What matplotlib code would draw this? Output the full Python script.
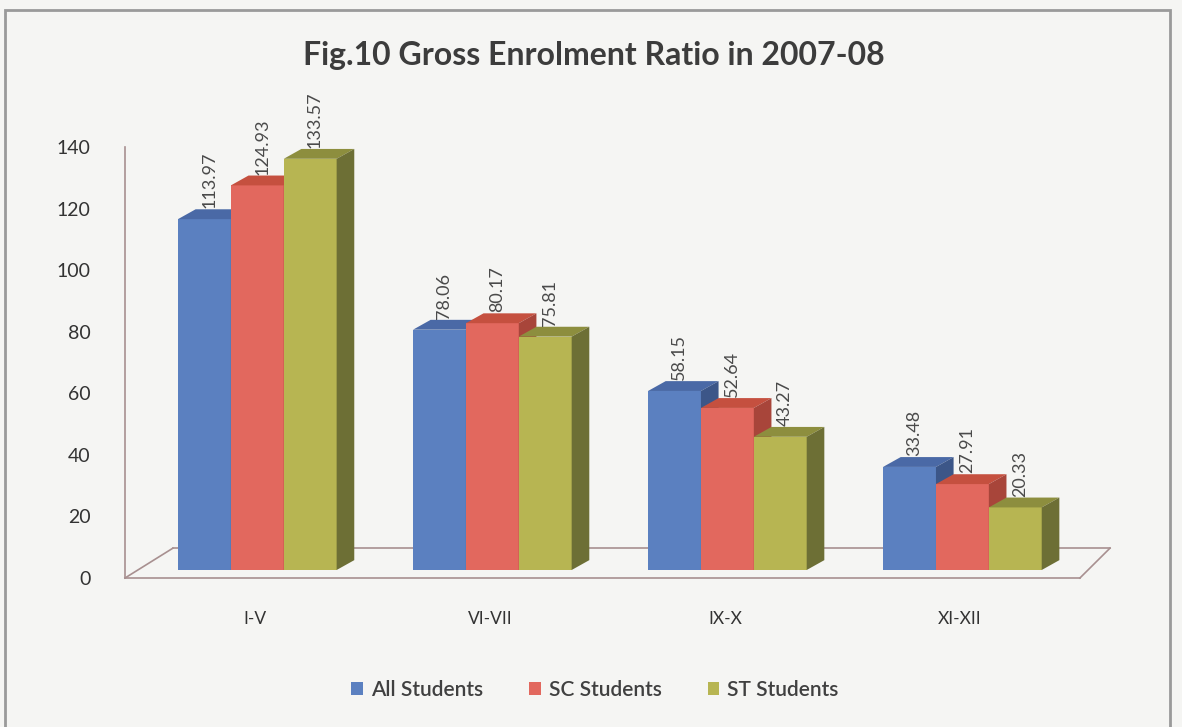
import matplotlib
matplotlib.use("Agg")
import matplotlib.pyplot as plt
from matplotlib.patches import Polygon, Rectangle

plt.rcParams['font.family'] = ['Lato', 'DejaVu Sans']

categories = ['I-V', 'VI-VII', 'IX-X', 'XI-XII']
series = ['All Students', 'SC Students', 'ST Students']
all_students = [113.97, 78.06, 58.15, 33.48]
sc_students = [124.93, 80.17, 52.64, 27.91]
st_students = [133.57, 75.81, 43.27, 20.33]
values = [all_students, sc_students, st_students]

front = ['#5b80c0', '#e2685e', '#b7b552']
top = ['#4a69a6', '#c5503f', '#8d8e3e']
side = ['#3c5688', '#a8453a', '#6d6f35']

fig = plt.figure(figsize=(11.82, 7.27), dpi=100, facecolor='#f5f5f3')
ax = fig.add_axes([125 / 1182, 149 / 727, 985 / 1182, 431 / 727])
ax.set_facecolor('none')

# outer frame of the chart
fig.patches.append(Rectangle((5 / 1182, -0.01), 1165 / 1182, 1 - 10 / 727 + 0.01,
                             transform=fig.transFigure, fill=False,
                             edgecolor='#9a9a9a', lw=2))

ax.set_xlim(-0.553, 3.638)
ax.set_ylim(0, 140)

# floor of the 3d chart, drawn under the bars
floor_col = '#a89090'
kw = dict(color=floor_col, lw=1.2, clip_on=False, zorder=0.5)
ax.plot([-0.553, 3.51], [0, 0], **kw)
ax.plot([-0.553, -0.349], [0, 9.7], **kw)
ax.plot([-0.349, 3.638], [9.7, 9.7], **kw)
ax.plot([3.51, 3.638], [0, 9.7], **kw)

base = 2.6
w = 0.225
dx = 0.075
dy = 3.2
for i in range(len(categories)):
    for k in range(3):
        v = values[k][i]
        x0 = i + (k - 1) * w + 0.01 - w / 2
        x1 = x0 + w
        y0 = base
        y1 = base + v
        ax.add_patch(Polygon([(x0, y0), (x1, y0), (x1, y1), (x0, y1)],
                             closed=True, facecolor=front[k], edgecolor='none', clip_on=False))
        ax.add_patch(Polygon([(x0, y1), (x1, y1), (x1 + dx, y1 + dy), (x0 + dx, y1 + dy)],
                             closed=True, facecolor=top[k], edgecolor='none', clip_on=False))
        ax.add_patch(Polygon([(x1, y0), (x1 + dx, y0 + dy), (x1 + dx, y1 + dy), (x1, y1)],
                             closed=True, facecolor=side[k], edgecolor='none', clip_on=False))
        ax.text(x0 + w / 2 + 0.02, y1 + dy + 0.3, '%.2f' % v, rotation=90,
                ha='center', va='bottom', fontsize=13, color='#4a4a4a', clip_on=False)

for s in ['top', 'right', 'bottom']:
    ax.spines[s].set_visible(False)
ax.spines['left'].set_color('#a89090')
ax.spines['left'].set_linewidth(1.2)

ax.set_yticks(range(0, 141, 20))
ax.set_xticks(range(len(categories)))
ax.set_xticklabels(categories)
ax.tick_params(axis='y', length=0, pad=25, labelsize=14, labelcolor='#333333')
ax.tick_params(axis='x', length=0, pad=24, labelsize=12.5, labelcolor='#333333')

fig.text(594 / 1182, 1 - 55 / 727, 'Fig.10 Gross Enrolment Ratio in 2007-08',
         ha='center', va='center', fontsize=23, fontweight='bold', color='#3c3c3c')

handles = [Rectangle((0, 0), 1, 1, facecolor=front[k]) for k in range(3)]
fig.legend(handles, series, loc='center', bbox_to_anchor=(595 / 1182, 1 - 690 / 727),
           ncol=3, frameon=False, prop={'size': 15, 'weight': 'semibold'},
           handlelength=0.55, handleheight=0.55,
           columnspacing=2.2, handletextpad=0.4, labelcolor='#404040')

fig.savefig('out.png', dpi=100, facecolor=fig.get_facecolor())
